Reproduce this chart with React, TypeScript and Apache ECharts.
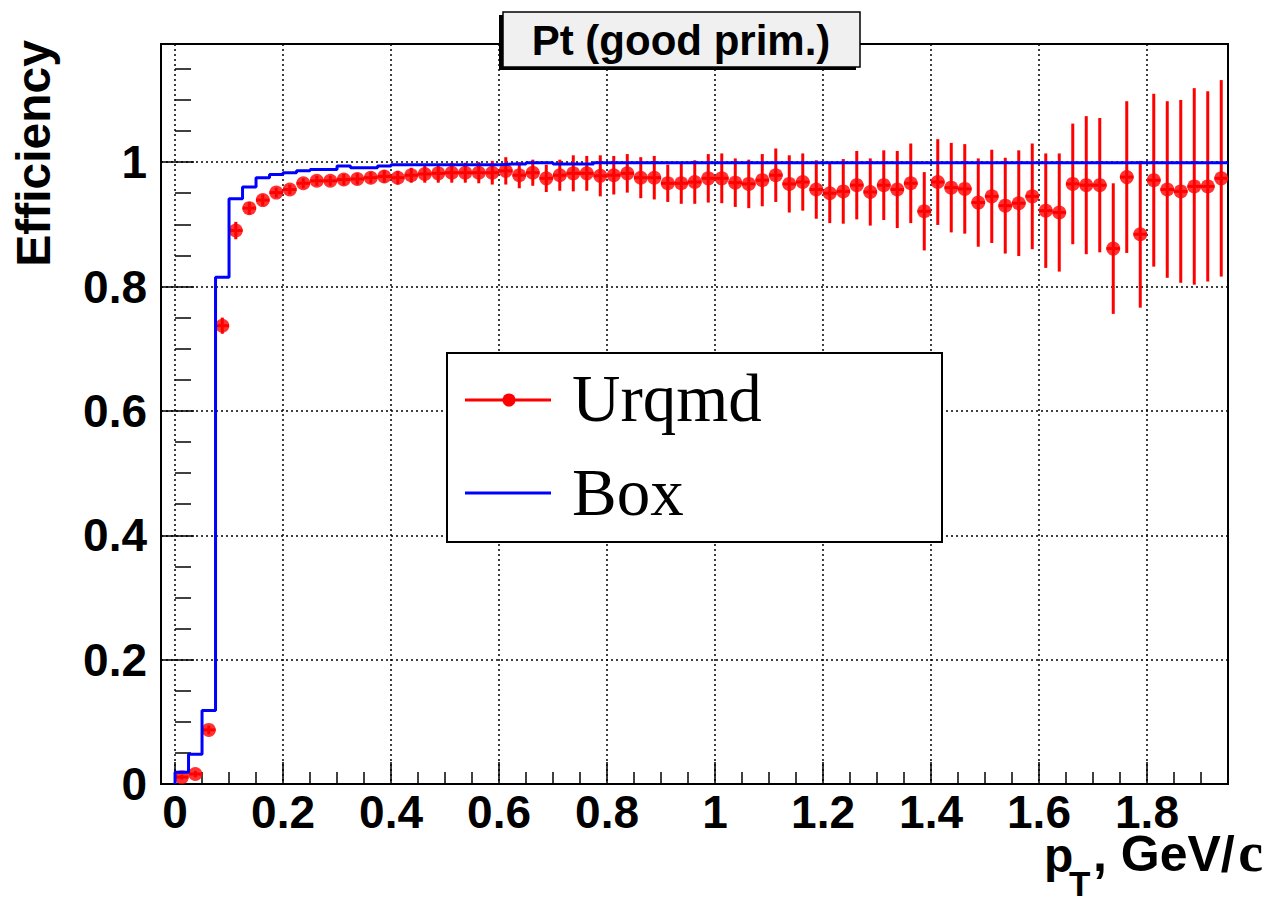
import React, { useEffect, useRef } from "react";
import * as echarts from "echarts";

// ---- Data ----
const BIN_WIDTH = 0.025;
const X_MIN = -0.026;
const X_MAX = 1.95;
const Y_MIN = 0;
const Y_MAX = 1.19;

const urqmdEff = [
  0.011, 0.016, 0.087, 0.737, 0.89, 0.926, 0.939, 0.951, 0.956, 0.966,
  0.97, 0.97, 0.972, 0.973, 0.975, 0.977, 0.975, 0.979, 0.981, 0.982,
  0.983, 0.983, 0.983, 0.983, 0.986, 0.979, 0.983, 0.974, 0.979, 0.982,
  0.982, 0.978, 0.979, 0.982, 0.975, 0.975, 0.966, 0.966, 0.968, 0.974,
  0.974, 0.967, 0.965, 0.971, 0.979, 0.965, 0.968, 0.956, 0.95, 0.953,
  0.963, 0.952, 0.963, 0.956, 0.966, 0.921, 0.968, 0.959, 0.957, 0.935,
  0.945, 0.93, 0.934, 0.945, 0.922, 0.919, 0.965, 0.963, 0.963, 0.861,
  0.976, 0.884, 0.971, 0.956, 0.953, 0.961, 0.961, 0.974,
];

const urqmdErr = [
  0.004, 0.005, 0.007, 0.013, 0.014, 0.01, 0.009, 0.008, 0.008, 0.008,
  0.008, 0.008, 0.009, 0.009, 0.009, 0.01, 0.011, 0.012, 0.014, 0.015,
  0.016, 0.016, 0.017, 0.019, 0.022, 0.021, 0.021, 0.022, 0.025, 0.029,
  0.028, 0.033, 0.031, 0.031, 0.033, 0.035, 0.03, 0.033, 0.035, 0.039,
  0.04, 0.039, 0.039, 0.042, 0.043, 0.046, 0.046, 0.047, 0.048, 0.052,
  0.055, 0.054, 0.056, 0.062, 0.064, 0.063, 0.069, 0.072, 0.072, 0.071,
  0.075, 0.077, 0.085, 0.085, 0.092, 0.095, 0.097, 0.111, 0.108, 0.105,
  0.122, 0.118, 0.139, 0.142, 0.147, 0.158, 0.153, 0.158,
];

const boxEff = [
  0.019, 0.048, 0.118, 0.815, 0.941, 0.96, 0.975, 0.98, 0.983, 0.986,
  0.988, 0.988, 0.994, 0.991, 0.991, 0.994, 0.996, 0.996, 0.996, 0.996,
  0.996, 0.996, 0.996, 0.996, 0.997, 0.997, 0.999, 0.999, 0.997, 0.997,
  0.997, 0.999, 0.999, 0.999, 0.999, 0.999, 0.999, 0.999, 0.999, 0.999,
  0.999, 0.999, 0.999, 0.999, 0.999, 0.999, 0.999, 0.999, 0.999, 0.999,
  0.999, 0.999, 0.999, 0.999, 0.999, 0.999, 0.999, 0.999, 0.999, 0.999,
  0.999, 0.999, 0.999, 0.999, 0.999, 0.999, 0.999, 0.999, 0.999, 0.999,
  0.999, 0.999, 0.999, 0.999, 0.999, 0.999, 0.999, 0.999,
];

const xMajorTicks = [0, 0.2, 0.4, 0.6, 0.8, 1, 1.2, 1.4, 1.6, 1.8];
const xMinorTicks = [
  0.05, 0.1, 0.15, 0.25, 0.3, 0.35, 0.45, 0.5, 0.55, 0.65, 0.7, 0.75, 0.85,
  0.9, 0.95, 1.05, 1.1, 1.15, 1.25, 1.3, 1.35, 1.45, 1.5, 1.55, 1.65, 1.7,
  1.75, 1.85, 1.9,
];
const yMajorTicks = [0, 0.2, 0.4, 0.6, 0.8, 1];
const yMinorTicks = [
  0.05, 0.1, 0.15, 0.25, 0.3, 0.35, 0.45, 0.5, 0.55, 0.65, 0.7, 0.75, 0.85,
  0.9, 0.95, 1.05, 1.1, 1.15,
];

const TITLE = "Pt (good prim.)";
const Y_TITLE = "Efficiency";
const SERIES_NAMES = ["Urqmd", "Box"];

const SANS = "'Liberation Sans', Arial, Helvetica, sans-serif";
const SERIF = "'Liberation Serif', 'Times New Roman', serif";

export default function App() {
  const ref = useRef<HTMLDivElement>(null);

  useEffect(() => {
    if (!ref.current) return;
    const chart = echarts.init(ref.current, undefined, { renderer: "svg" });

    const centers = urqmdEff.map((_, i) => BIN_WIDTH * (i + 0.5));
    const points = urqmdEff.map((v, i) => [centers[i], v]);
    const errData = urqmdEff.map((v, i) => [centers[i], v, urqmdErr[i]]);
    const boxStep: number[][] = [[0, 0]];
    boxEff.forEach((v, i) => boxStep.push([BIN_WIDTH * i, v]));
    boxStep.push([BIN_WIDTH * boxEff.length, boxEff[boxEff.length - 1]]);

    const fmt = (v: number) => String(parseFloat(v.toFixed(2)));
    const grid = { left: 161, right: 42, top: 44, bottom: 119 };
    const dotted = { color: "#000", width: 1.5, type: [2, 3] as any };

    chart.setOption({
      animation: false,
      backgroundColor: "#fff",
      grid: {
        ...grid,
        show: true,
        borderColor: "#000",
        borderWidth: 2,
        backgroundColor: "transparent",
      },
      xAxis: [
        {
          type: "value",
          min: X_MIN,
          max: X_MAX,
          position: "bottom",
          axisLine: { show: true, onZero: false, lineStyle: { color: "#000", width: 2 } },
          axisTick: {
            show: true,
            inside: true,
            length: 22,
            customValues: xMajorTicks,
            lineStyle: { color: "#000", width: 1.5 },
          },
          axisLabel: {
            show: true,
            customValues: xMajorTicks,
            formatter: fmt,
            margin: 8,
            lineHeight: 40,
            color: "#000",
            fontFamily: SANS,
            fontWeight: "bold",
            fontSize: 46,
          },
          splitLine: { show: true, lineStyle: dotted },
        },
        {
          type: "value",
          min: X_MIN,
          max: X_MAX,
          position: "bottom",
          axisLine: { show: false },
          axisTick: {
            show: true,
            inside: true,
            length: 12,
            customValues: xMinorTicks,
            lineStyle: { color: "#000", width: 1.5 },
          },
          axisLabel: { show: false },
          splitLine: { show: false },
        },
      ],
      yAxis: [
        {
          type: "value",
          min: Y_MIN,
          max: Y_MAX,
          position: "left",
          axisLine: { show: true, onZero: false, lineStyle: { color: "#000", width: 2 } },
          axisTick: {
            show: true,
            inside: true,
            length: 33,
            customValues: yMajorTicks,
            lineStyle: { color: "#000", width: 1.5 },
          },
          axisLabel: {
            show: true,
            customValues: yMajorTicks,
            formatter: fmt,
            margin: 14,
            color: "#000",
            fontFamily: SANS,
            fontWeight: "bold",
            fontSize: 46,
          },
          splitLine: { show: true, lineStyle: dotted },
        },
        {
          type: "value",
          min: Y_MIN,
          max: Y_MAX,
          position: "left",
          axisLine: { show: false },
          axisTick: {
            show: true,
            inside: true,
            length: 16,
            customValues: yMinorTicks,
            lineStyle: { color: "#000", width: 1.5 },
          },
          axisLabel: { show: false },
          splitLine: { show: false },
        },
      ],
      series: [
        {
          name: SERIES_NAMES[0] + " errors",
          type: "custom",
          xAxisIndex: 0,
          yAxisIndex: 0,
          data: errData,
          encode: { x: 0, y: 1 },
          z: 3,
          renderItem: (_params: any, api: any) => {
            const x = api.value(0);
            const y = api.value(1);
            const e = api.value(2);
            const top = api.coord([x, y + e]);
            const bot = api.coord([x, y - e]);
            const l = api.coord([x - BIN_WIDTH / 2, y]);
            const r = api.coord([x + BIN_WIDTH / 2, y]);
            const style = { stroke: "#ff0000", lineWidth: 3 };
            return {
              type: "group",
              children: [
                { type: "line", shape: { x1: top[0], y1: top[1], x2: bot[0], y2: bot[1] }, style },
                { type: "line", shape: { x1: l[0], y1: l[1], x2: r[0], y2: r[1] }, style },
              ],
            };
          },
        },
        {
          name: SERIES_NAMES[0],
          type: "scatter",
          xAxisIndex: 0,
          yAxisIndex: 0,
          data: points,
          symbol: "circle",
          symbolSize: 14,
          itemStyle: { color: "#ff0000" },
          z: 4,
        },
        {
          name: SERIES_NAMES[1],
          type: "line",
          xAxisIndex: 0,
          yAxisIndex: 0,
          data: boxStep,
          step: "end",
          showSymbol: false,
          symbol: "none",
          lineStyle: { color: "#0000ff", width: 3 },
          z: 5,
        },
      ],
      graphic: [
        // Title box with shadow
        { type: "rect", shape: { x: 499, y: 15, width: 357, height: 55 }, style: { fill: "#000" }, z: 100 },
        {
          type: "rect",
          shape: { x: 503, y: 12, width: 357, height: 55 },
          style: { fill: "#f0f0f0", stroke: "#000", lineWidth: 1.5 },
          z: 101,
        },
        {
          type: "text",
          x: 681,
          y: 40,
          style: {
            text: TITLE,
            fill: "#000",
            font: `bold 42px ${SANS}`,
            textAlign: "center",
            textVerticalAlign: "middle",
          },
          z: 102,
        },
        // Y axis title
        {
          type: "text",
          x: 33,
          y: 40,
          rotation: Math.PI / 2,
          style: {
            text: Y_TITLE,
            fill: "#000",
            font: `bold 48px ${SANS}`,
            textAlign: "right",
            textVerticalAlign: "middle",
          },
          z: 100,
        },
        // X axis title: p_T, GeV/c
        {
          type: "text",
          x: 1044,
          y: 855,
          style: {
            text: "p",
            fill: "#000",
            font: `bold 48px ${SANS}`,
            lineHeight: 34,
            textAlign: "left",
            textVerticalAlign: "middle",
          },
          z: 100,
        },
        {
          type: "text",
          x: 1069,
          y: 883,
          style: {
            text: "T",
            fill: "#000",
            font: `bold 35px ${SANS}`,
            lineHeight: 28,
            textAlign: "left",
            textVerticalAlign: "middle",
          },
          z: 100,
        },
        {
          type: "text",
          x: 1093,
          y: 854,
          style: {
            text: ", GeV/",
            fill: "#000",
            font: `bold 50px ${SANS}`,
            lineHeight: 34,
            textAlign: "left",
            textVerticalAlign: "middle",
          },
          z: 100,
        },
        {
          type: "text",
          x: 1263,
          y: 852,
          style: {
            text: "c",
            fill: "#000",
            font: `bold 56px ${SERIF}`,
            lineHeight: 34,
            textAlign: "right",
            textVerticalAlign: "middle",
          },
          z: 100,
        },
        // Legend
        {
          type: "rect",
          shape: { x: 447, y: 353, width: 495, height: 189 },
          style: { fill: "#fff", stroke: "#000", lineWidth: 2 },
          z: 100,
        },
        {
          type: "line",
          shape: { x1: 465, y1: 400, x2: 551, y2: 400 },
          style: { stroke: "#ff0000", lineWidth: 3 },
          z: 101,
        },
        {
          type: "circle",
          shape: { cx: 509, cy: 400, r: 6.5 },
          style: { fill: "#ff0000" },
          z: 101,
        },
        {
          type: "text",
          x: 572,
          y: 398,
          style: { text: SERIES_NAMES[0], fill: "#000", font: `67px ${SERIF}`, textAlign: "left", textVerticalAlign: "middle" },
          z: 101,
        },
        {
          type: "line",
          shape: { x1: 465, y1: 493, x2: 551, y2: 493 },
          style: { stroke: "#0000ff", lineWidth: 3 },
          z: 101,
        },
        {
          type: "text",
          x: 572,
          y: 492,
          style: { text: SERIES_NAMES[1], fill: "#000", font: `67px ${SERIF}`, textAlign: "left", textVerticalAlign: "middle" },
          z: 101,
        },
      ],
    });

    return () => chart.dispose();
  }, []);

  return (
    <div
      ref={ref}
      style={{ position: "absolute", left: 0, top: 0, width: 1270, height: 903, background: "#fff" }}
    />
  );
}
